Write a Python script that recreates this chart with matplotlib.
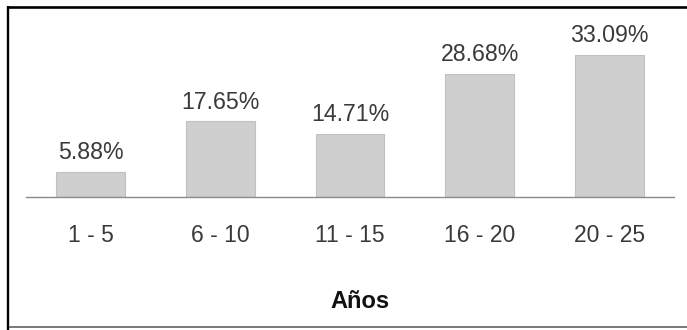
import matplotlib
matplotlib.use("Agg")
import matplotlib.pyplot as plt
from matplotlib.lines import Line2D

# Data
categories = ["1 - 5", "6 - 10", "11 - 15", "16 - 20", "20 - 25"]
percentages = [5.88, 17.65, 14.71, 28.68, 33.09]
value_labels = ["5.88%", "17.65%", "14.71%", "28.68%", "33.09%"]
x_title = "Años"

W, H, DPI = 687, 330, 100
plt.rcParams["font.family"] = ["Liberation Sans", "DejaVu Sans"]

fig = plt.figure(figsize=(W / DPI, H / DPI), dpi=DPI)
fig.patch.set_facecolor("white")

# Plot area: baseline at 197 px from top, 4.3 px per percentage point
left_px, right_px = 26, 674
base_px, top_px = 197.3, 10
px_per_unit = 4.3
ax = fig.add_axes([left_px / W, (H - base_px) / H,
                   (right_px - left_px) / W, (base_px - top_px) / H])
ax.set_xlim(-0.5, len(categories) - 0.5)
ax.set_ylim(0, (base_px - top_px) / px_per_unit)

xs = list(range(len(categories)))
ax.bar(xs, percentages, width=0.53, color="#d0cfd0",
       edgecolor="#c2c1c2", linewidth=0.8, zorder=2)

for x, v, lab in zip(xs, percentages, value_labels):
    ax.annotate(lab, (x, v), xytext=(0, 5.5), textcoords="offset points",
                ha="center", va="bottom", fontsize=16.7, color="#3a3a3a")

ax.set_xticks(xs)
ax.set_xticklabels(categories, fontsize=16.5, color="#3a3a3a")
ax.tick_params(axis="x", length=0, pad=19.5)
ax.set_yticks([])
for side in ("top", "left", "right"):
    ax.spines[side].set_visible(False)
ax.spines["bottom"].set_color("#8a8a8a")
ax.spines["bottom"].set_linewidth(1.0)
ax.spines["bottom"].set_zorder(3)
ax.set_facecolor("none")

fig.text(360 / W, (H - 308) / H, x_title, ha="center", va="baseline",
         fontsize=17, fontweight="bold", color="#111111")

# Frame around the chart
def px_line(x0, y0, x1, y1, **kw):
    fig.add_artist(Line2D([x0 / W, x1 / W], [(H - y0) / H, (H - y1) / H],
                          transform=fig.transFigure, **kw))

px_line(7, 7, W, 7, color="black", linewidth=1.9, solid_capstyle="butt")
px_line(8, 6, 8, H, color="black", linewidth=1.7, solid_capstyle="butt")
px_line(9, 326.5, W, 326.5, color="#555555", linewidth=1.1, solid_capstyle="butt")

fig.savefig("out.png", dpi=DPI, facecolor="white")
